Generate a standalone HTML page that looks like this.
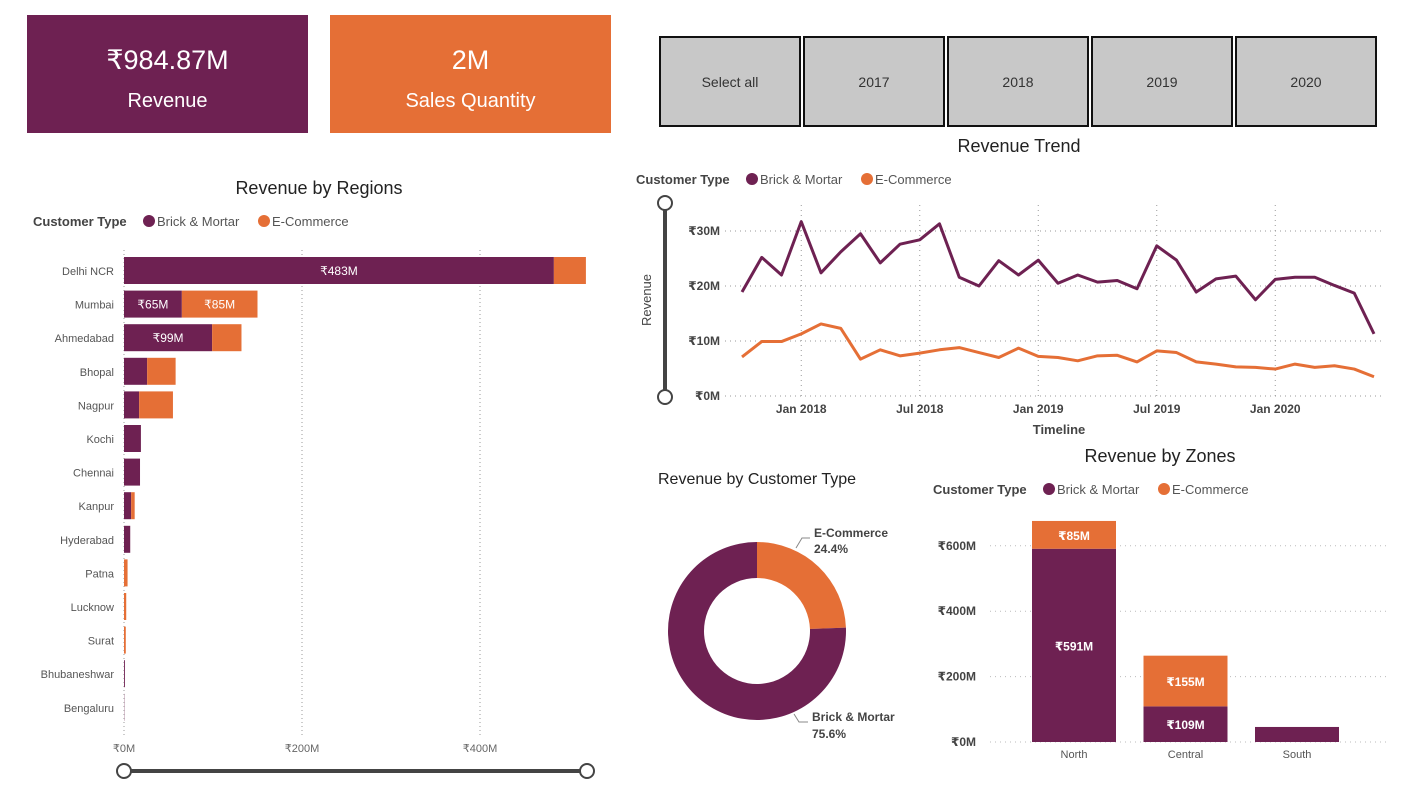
<!DOCTYPE html>
<html><head><meta charset="utf-8">
<style>
body{margin:0;width:1409px;height:791px;background:#fff;font-family:"Liberation Sans","DejaVu Sans",sans-serif;position:relative;overflow:hidden}
.card{position:absolute;color:#fff;text-align:center}
.btn{position:absolute;top:36px;width:138px;height:87px;background:#c8c8c8;border:2px solid #111;font-size:14px;color:#333;display:flex;align-items:center;justify-content:center;box-sizing:border-box;height:91px;width:142px}
svg{position:absolute;left:0;top:0}
</style></head><body>
<div class="card" style="left:27px;top:15px;width:281px;height:118px;background:#6e2152">
 <div style="font-size:27px;margin-top:30px">₹984.87M</div><div style="font-size:20px;margin-top:14px">Revenue</div></div>
<div class="card" style="left:330px;top:15px;width:281px;height:118px;background:#e56f36">
 <div style="font-size:27px;margin-top:30px">2M</div><div style="font-size:20px;margin-top:14px">Sales Quantity</div></div>
<div class="btn" style="left:659px">Select all</div>
<div class="btn" style="left:803px">2017</div>
<div class="btn" style="left:947px">2018</div>
<div class="btn" style="left:1091px">2019</div>
<div class="btn" style="left:1235px">2020</div>
<svg id="s" width="1409" height="791"></svg>
<script>
const P='#6e2152',O='#e56f36';
const regions=['Delhi NCR','Mumbai','Ahmedabad','Bhopal','Nagpur','Kochi','Chennai','Kanpur','Hyderabad','Patna','Lucknow','Surat','Bhubaneshwar','Bengaluru'];
const regionBM=[483,65,99,26,17,19,18,8,7,0,0,0,1,0.3];
const regionEC=[36,85,33,32,38,0,0,4,0,4,2.5,2,0,0];
const regionLabelsBM=['₹483M','₹65M','₹99M','','','','','','','','','','',''];
const regionLabelsEC=['','₹85M','','','','','','','','','','','',''];
const regionTicks=[0,200,400];
const months=['2017-10','2017-11','2017-12','2018-01','2018-02','2018-03','2018-04','2018-05','2018-06','2018-07','2018-08','2018-09','2018-10','2018-11','2018-12','2019-01','2019-02','2019-03','2019-04','2019-05','2019-06','2019-07','2019-08','2019-09','2019-10','2019-11','2019-12','2020-01','2020-02','2020-03','2020-04','2020-05','2020-06'];
const trendBM=[18.9,25.2,22,31.7,22.4,26.2,29.5,24.2,27.6,28.4,31.3,21.6,20,24.6,22,24.7,20.5,22,20.7,21,19.5,27.3,24.7,18.9,21.3,21.8,17.5,21.2,21.6,21.6,20.1,18.7,11.3];
const trendEC=[7.1,9.9,9.9,11.3,13.1,12.3,6.7,8.4,7.3,7.8,8.4,8.8,7.9,7,8.7,7.2,7,6.4,7.3,7.4,6.2,8.2,7.9,6.2,5.8,5.3,5.2,4.9,5.8,5.2,5.5,4.9,3.5];
const trendTicks=[0,10,20,30];
const trendXTicks=[[3,'Jan 2018'],[9,'Jul 2018'],[15,'Jan 2019'],[21,'Jul 2019'],[27,'Jan 2020']];
const donutLabels=['E-Commerce','Brick & Mortar'];
const donutValues=[24.4,75.6];
const zones=['North','Central','South'];
const zoneBM=[591,109,46];
const zoneEC=[85,155,0];
const zoneLabelsBM=['₹591M','₹109M',''];
const zoneLabelsEC=['₹85M','₹155M',''];
const zoneTicks=[0,200,400,600];

const s=document.getElementById('s');
function el(t,a,txt){const e=document.createElementNS('http://www.w3.org/2000/svg',t);for(const k in a)e.setAttribute(k,a[k]);if(txt!==undefined)e.textContent=txt;s.appendChild(e);return e;}
function tx(x,y,t,sz,fill,anchor,w,name){const e=el('text',{x,y,'font-size':sz,fill,'text-anchor':anchor||'start','font-weight':w||'normal'},t);

return e;}
function legend(x,y,name){tx(x,y,'Customer Type',13,'#444','start','bold',name+'-title');
el('circle',{cx:x+116,cy:y-5,r:6,fill:P});tx(x+124,y,'Brick & Mortar',13,'#555','start','normal',name+'-brick');
el('circle',{cx:x+231,cy:y-5,r:6,fill:O});tx(x+239,y,'E-Commerce',13,'#555','start','normal',name+'-ecom');}

// Region bars
tx(319,194,'Revenue by Regions',18,'#222','middle','normal','regions-title');
legend(33,226,'regions-legend');
const rx=v=>124+v*0.89, ry=i=>257+i*33.6;
regionTicks.forEach(t=>{el('line',{x1:rx(t),x2:rx(t),y1:250,y2:735,stroke:'#999','stroke-dasharray':'1,3'});tx(rx(t),752,'₹'+t+'M',11,'#666','middle','normal','regions-x-tick');});
regions.forEach((r,i)=>{const y=ry(i);tx(114,y+18,r,11,'#555','end','normal','region-label');
const b=el('rect',{x:rx(0),y,width:regionBM[i]*0.89,height:27,fill:P});


const c=el('rect',{x:rx(regionBM[i]),y,width:regionEC[i]*0.89,height:27,fill:O});


if(regionLabelsBM[i])tx(rx(regionBM[i]/2),y+18,regionLabelsBM[i],12,'#fff','middle','normal','bar-value');
if(regionLabelsEC[i])tx(rx(regionBM[i]+regionEC[i]/2),y+18,regionLabelsEC[i],12,'#fff','middle','normal','bar-value');});
el('line',{x1:124,x2:587,y1:771,y2:771,stroke:'#444','stroke-width':4});
el('circle',{cx:124,cy:771,r:7,fill:'#fff',stroke:'#444','stroke-width':2});
el('circle',{cx:587,cy:771,r:7,fill:'#fff',stroke:'#444','stroke-width':2});

// Trend
tx(1019,152,'Revenue Trend',18,'#222','middle','normal','trend-title');
legend(636,184,'trend-legend');
const mx=i=>742+i*19.75, my=v=>396-v*5.5;
trendTicks.forEach(t=>{el('line',{x1:725,x2:1385,y1:my(t),y2:my(t),stroke:'#999','stroke-dasharray':'1,4'});tx(720,my(t)+4,'₹'+t+'M',12,'#444','end','bold','trend-y-tick');});
trendXTicks.forEach(([i,l])=>{el('line',{x1:mx(i),x2:mx(i),y1:205,y2:396,stroke:'#999','stroke-dasharray':'1,4'});tx(mx(i),413,l,12,'#444','middle','bold','trend-x-tick');});
[[trendBM,P],[trendEC,O]].forEach(([d,c],k)=>{const p=el('polyline',{points:d.map((v,i)=>mx(i)+','+my(v)).join(' '),fill:'none',stroke:c,'stroke-width':3,'stroke-linejoin':'round'});

});
tx(1059,434,'Timeline',13,'#444','middle','bold','trend-x-title');
const yt=tx(651,300,'Revenue',13,'#444','middle','normal','trend-y-title');yt.setAttribute('transform','rotate(-90 651 300)');
el('line',{x1:665,x2:665,y1:203,y2:397,stroke:'#444','stroke-width':4});
el('circle',{cx:665,cy:203,r:7,fill:'#fff',stroke:'#444','stroke-width':2});
el('circle',{cx:665,cy:397,r:7,fill:'#fff',stroke:'#444','stroke-width':2});

// Donut
tx(757,484,'Revenue by Customer Type',16,'#222','middle','normal','donut-title');
const cx=757,cy=631,R=89,r0=53;let a0=-Math.PI/2;const tot=donutValues.reduce((a,b)=>a+b,0);
donutValues.forEach((v,i)=>{const a1=a0+v/tot*2*Math.PI,lg=a1-a0>Math.PI?1:0;
const pt=(rr,a)=>(cx+rr*Math.cos(a))+','+(cy+rr*Math.sin(a));
const p=el('path',{d:`M${pt(R,a0)}A${R},${R} 0 ${lg} 1 ${pt(R,a1)}L${pt(r0,a1)}A${r0},${r0} 0 ${lg} 0 ${pt(r0,a0)}Z`,fill:i?P:O});

a0=a1;});
el('polyline',{points:'796,548 802,538 810,538',fill:'none',stroke:'#888'});
tx(814,537,donutLabels[0],12,'#444','start','bold','donut-label-ecom');tx(814,553,donutValues[0]+'%',12,'#444','start','bold','donut-pct-ecom');
el('polyline',{points:'794,714 799,722 808,722',fill:'none',stroke:'#888'});
tx(812,721,donutLabels[1],12,'#444','start','bold','donut-label-brick');tx(812,738,donutValues[1]+'%',12,'#444','start','bold','donut-pct-brick');

// Zones
tx(1160,462,'Revenue by Zones',18,'#222','middle','normal','zones-title');
legend(933,494,'zones-legend');
const zy=v=>742-v*0.327, zx=i=>1032+i*111.5;
zoneTicks.forEach(t=>{el('line',{x1:990,x2:1390,y1:zy(t),y2:zy(t),stroke:'#bbb','stroke-dasharray':'1,4'});tx(976,zy(t)+4,'₹'+t+'M',12,'#444','end','bold','zones-y-tick');});
zones.forEach((z,i)=>{const b=el('rect',{x:zx(i),y:zy(zoneBM[i]),width:84,height:zoneBM[i]*0.327,fill:P});


const c=el('rect',{x:zx(i),y:zy(zoneBM[i]+zoneEC[i]),width:84,height:zoneEC[i]*0.327,fill:O});


if(zoneLabelsBM[i])tx(zx(i)+42,zy(zoneBM[i]/2)+5,zoneLabelsBM[i],12,'#fff','middle','bold','bar-value');
if(zoneLabelsEC[i])tx(zx(i)+42,zy(zoneBM[i]+zoneEC[i]/2)+5,zoneLabelsEC[i],12,'#fff','middle','bold','bar-value');
tx(zx(i)+42,758,z,11,'#555','middle','normal','zone-label');});
</script>
</body></html>
